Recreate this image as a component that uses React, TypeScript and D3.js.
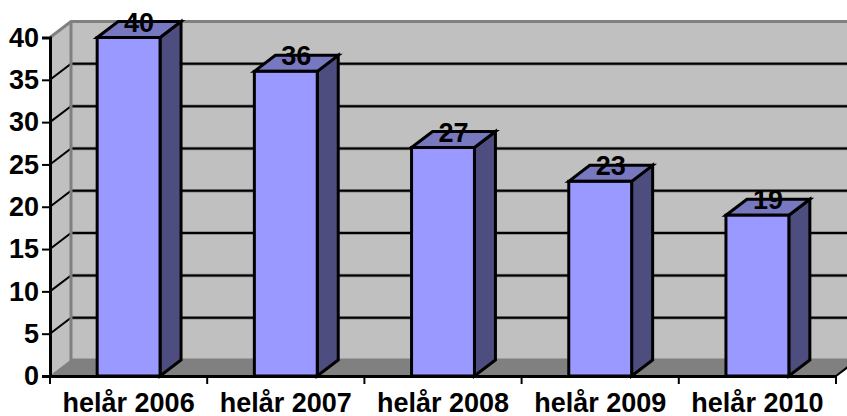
import React, { useEffect, useRef } from 'react';
import * as d3 from 'd3';

const categories = ['helår 2006', 'helår 2007', 'helår 2008', 'helår 2009', 'helår 2010'];
const values = [40, 36, 27, 23, 19];
const yTicks = [0, 5, 10, 15, 20, 25, 30, 35, 40];

const FONT = '"Liberation Sans", Arial, sans-serif';
const FONT_SIZE = 27;

function App() {
    const ref = useRef<SVGSVGElement>(null);

    useEffect(() => {
        const svg = d3.select(ref.current);
        svg.selectAll('*').remove();

        const dx = 21;
        const dy = -16;
        const x = d3.scaleBand<string>().domain(categories).range([50, 836]);
        const y = d3.scaleLinear().domain([0, 40]).range([376, 37.5]);
        const y0 = y(0);
        const yTop = y(40);
        const barW = x.bandwidth() * 0.4;
        const line = d3.line();

        // back wall
        svg.append('path')
            .attr('d', line([[50 + dx, yTop + dy], [847, yTop + dy], [847, y0 + dy], [50 + dx, y0 + dy]]) + 'Z')
            .attr('fill', '#c0c0c0');
        // side wall
        svg.append('path')
            .attr('d', line([[50, yTop], [50 + dx, yTop + dy], [50 + dx, y0 + dy], [50, y0]]) + 'Z')
            .attr('fill', '#c0c0c0');
        // floor
        svg.append('path')
            .attr('d', line([[50, y0], [836, y0], [836 + dx, y0 + dy], [50 + dx, y0 + dy]]) + 'Z')
            .attr('fill', '#808080');

        const grid = yTicks.filter(d => d > 0 && d < 40);

        // soft halo under the back gridlines
        svg.append('g').selectAll('path')
            .data(grid)
            .join('path')
            .attr('d', d => line([[50 + dx, y(d) + dy], [847, y(d) + dy]]))
            .attr('stroke', '#808080')
            .attr('stroke-width', 3.5);

        // gridlines
        svg.append('g').selectAll('path')
            .data(grid)
            .join('path')
            .attr('d', d => line([[50, y(d)], [50 + dx, y(d) + dy], [847, y(d) + dy]]))
            .attr('fill', 'none')
            .attr('stroke', '#000')
            .attr('stroke-width', 2);

        // wall edges
        svg.append('path')
            .attr('d', line([[50, yTop], [50 + dx, yTop + dy], [847, yTop + dy]]))
            .attr('fill', 'none').attr('stroke', '#808080').attr('stroke-width', 3);
        svg.append('path')
            .attr('d', line([[50 + dx, yTop + dy], [50 + dx, y0 + dy], [847, y0 + dy]]))
            .attr('fill', 'none').attr('stroke', '#808080').attr('stroke-width', 3);
        svg.append('path')
            .attr('d', line([[50, y0], [50 + dx, y0 + dy]]))
            .attr('fill', 'none').attr('stroke', '#808080').attr('stroke-width', 1);

        // bars
        const bars = svg.append('g').selectAll('g')
            .data(values)
            .join('g')
            .attr('stroke', '#000')
            .attr('stroke-width', 3)
            .attr('stroke-linejoin', 'miter');
        const left = (i: number) => x(categories[i])! + (x.bandwidth() - barW) / 2;

        bars.append('path')
            .attr('fill', '#4d4d80')
            .attr('d', (d, i) => line([
                [left(i) + barW, y(d)], [left(i) + barW + dx, y(d) + dy],
                [left(i) + barW + dx, y0 + dy], [left(i) + barW, y0],
            ]) + 'Z');
        bars.append('path')
            .attr('fill', '#7878c0')
            .attr('d', (d, i) => line([
                [left(i), y(d)], [left(i) + dx, y(d) + dy],
                [left(i) + barW + dx, y(d) + dy], [left(i) + barW, y(d)],
            ]) + 'Z');
        bars.append('rect')
            .attr('fill', '#9999ff')
            .attr('x', (d, i) => left(i))
            .attr('y', d => y(d))
            .attr('width', barW)
            .attr('height', d => y0 - y(d));

        // value labels
        svg.append('g').selectAll('text')
            .data(values)
            .join('text')
            .attr('x', (d, i) => left(i) + barW / 2 + dx / 2)
            .attr('y', d => y(d) - 6)
            .attr('text-anchor', 'middle')
            .attr('font-family', FONT)
            .attr('font-weight', 700)
            .attr('font-size', FONT_SIZE)
            .attr('fill', '#000')
            .text(d => d);

        // axes
        const yAxis = svg.append('g')
            .attr('transform', 'translate(50,0)')
            .call(d3.axisLeft(y).tickValues(yTicks).tickSize(8).tickPadding(3));
        const xAxis = svg.append('g')
            .attr('transform', `translate(0,${y0})`)
            .call(d3.axisBottom(x).tickSize(0).tickPadding(17));

        xAxis.append('g').selectAll('line')
            .data(d3.range(categories.length + 1))
            .join('line')
            .attr('x1', i => 50 + i * x.step())
            .attr('x2', i => 50 + i * x.step())
            .attr('y1', 0)
            .attr('y2', 8)
            .attr('stroke', '#000')
            .attr('stroke-width', 2);
        xAxis.append('line')
            .attr('x1', 836).attr('y1', 0).attr('x2', 836 + dx).attr('y2', dy)
            .attr('stroke', '#000').attr('stroke-width', 2);

        [yAxis, xAxis].forEach(a => {
            a.select('.domain').attr('stroke', '#000').attr('stroke-width', 3);
            a.selectAll('.tick line').attr('stroke', '#000').attr('stroke-width', 2);
            a.selectAll('.tick text')
                .attr('font-family', FONT)
                .attr('font-weight', 700)
                .attr('font-size', FONT_SIZE)
                .attr('fill', '#000');
        });
    }, []);

    return (
        <svg
            ref={ref}
            width={847}
            height={416}
            style={{ position: 'absolute', left: 0, top: 0, background: '#fff' }}
        />
    );
}

export default App;
